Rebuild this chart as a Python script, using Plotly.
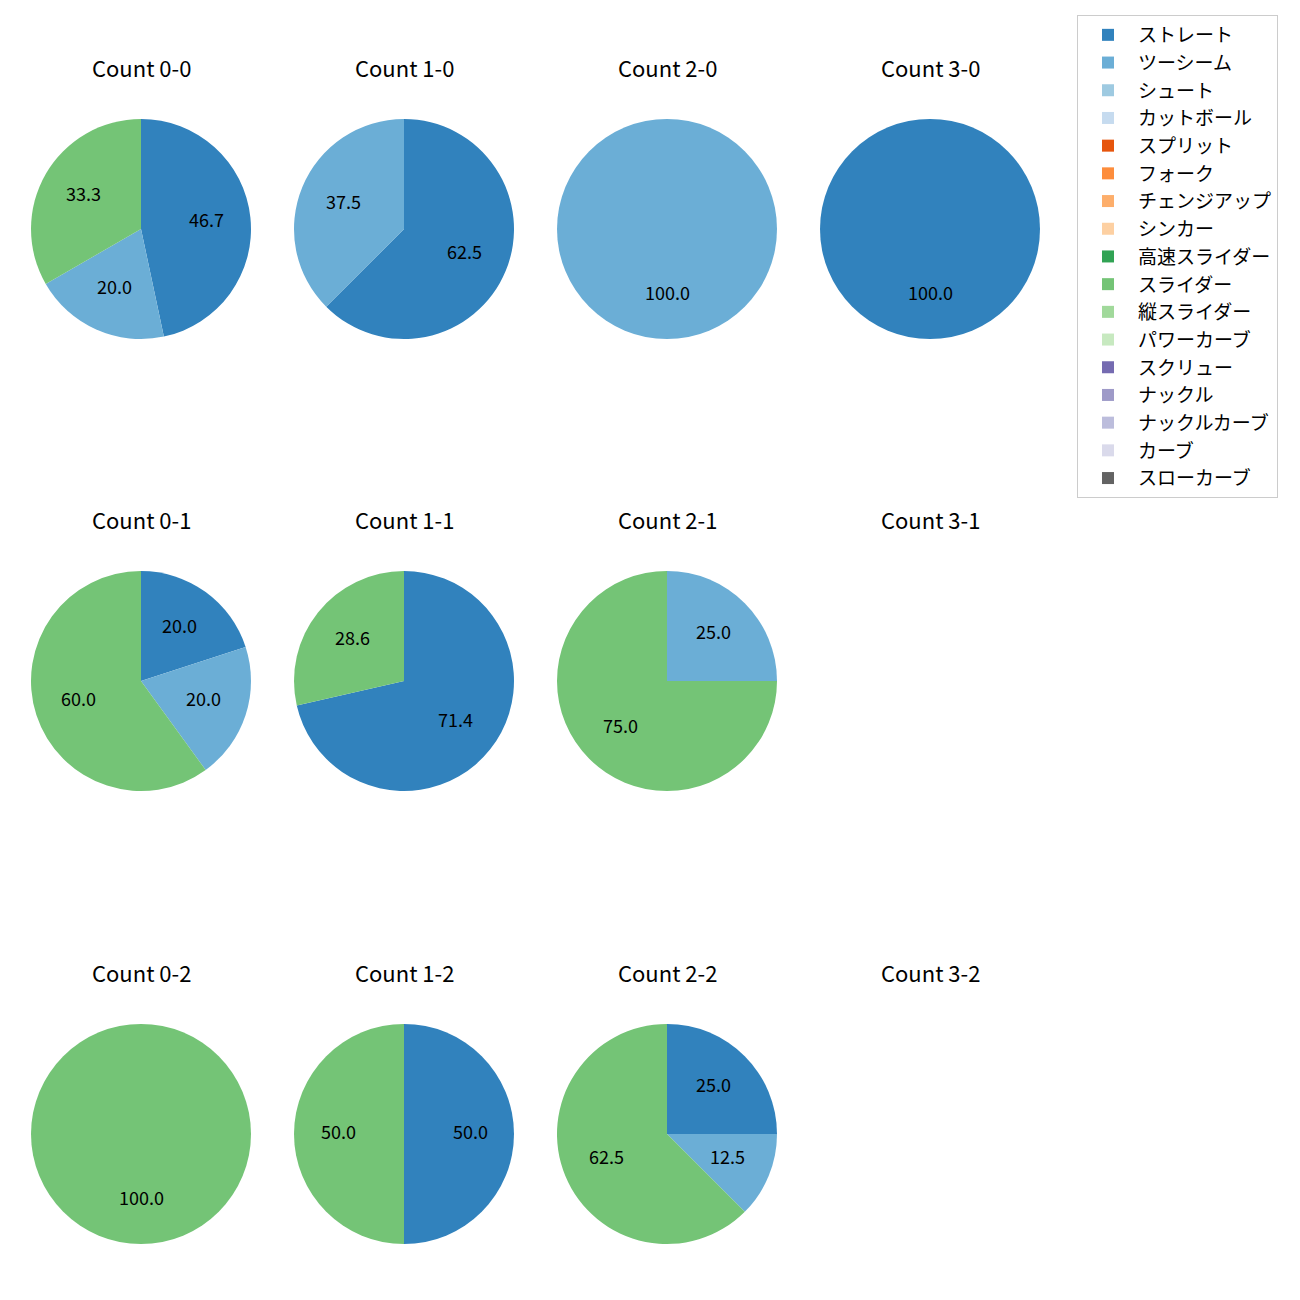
import math
import plotly.graph_objects as go

# ---- data ----
pitch_types = ["ストレート", "ツーシーム", "シュート", "カットボール", "スプリット", "フォーク",
               "チェンジアップ", "シンカー", "高速スライダー", "スライダー", "縦スライダー",
               "パワーカーブ", "スクリュー", "ナックル", "ナックルカーブ", "カーブ", "スローカーブ"]
pitch_colors = ["#3182bd", "#6baed6", "#9ecae1", "#c6dbef", "#e6550d", "#fd8d3c",
                "#fdae6b", "#fdd0a2", "#31a354", "#74c476", "#a1d99b", "#c7e9c0",
                "#756bb1", "#9e9ac8", "#bcbddc", "#dadaeb", "#636363"]

count_labels = ["0-0", "1-0", "2-0", "3-0",
                "0-1", "1-1", "2-1", "3-1",
                "0-2", "1-2", "2-2", "3-2"]

# pitch counts per ball-strike count (only pitch types that occurred)
count_pitches = [
    {"ストレート": 7, "ツーシーム": 3, "スライダー": 5},   # 0-0
    {"ストレート": 5, "ツーシーム": 3},                    # 1-0
    {"ツーシーム": 1},                                     # 2-0
    {"ストレート": 1},                                     # 3-0
    {"ストレート": 1, "ツーシーム": 1, "スライダー": 3},   # 0-1
    {"ストレート": 5, "スライダー": 2},                    # 1-1
    {"ツーシーム": 1, "スライダー": 3},                    # 2-1
    {},                                                    # 3-1
    {"スライダー": 1},                                     # 0-2
    {"ストレート": 1, "スライダー": 1},                    # 1-2
    {"ストレート": 2, "ツーシーム": 1, "スライダー": 5},   # 2-2
    {},                                                    # 3-2
]

# ---- layout geometry (pixels, page coords) ----
W = H = 1300
OFF = 8  # page body margin offset
col_centers = [141, 404, 667, 930]
row_centers = [229, 681, 1134]
R = 110
title_offset = 160


def px(x):
    return (x - OFF) / W


def py(y):
    return 1 - (y - OFF) / H


fig = go.Figure()
annotations = []

for i, lab in enumerate(count_labels):
    r_i, c_i = divmod(i, 4)
    cx, cy = col_centers[c_i], row_centers[r_i]
    annotations.append(dict(
        text=f"Count {lab}", x=px(cx), y=py(cy - title_offset), yshift=2,
        xref="paper", yref="paper", showarrow=False,
        font=dict(size=22, color="black"), xanchor="center", yanchor="middle"))
    data = count_pitches[i]
    vals = [data.get(p, 0) for p in pitch_types]
    total = sum(vals)
    if total == 0:
        continue
    fig.add_trace(go.Pie(
        labels=pitch_types, values=vals, sort=False, direction="clockwise",
        rotation=0, marker=dict(colors=pitch_colors, line=dict(width=0)),
        textinfo="none", hoverinfo="label+percent",
        domain=dict(x=[px(cx - R), px(cx + R)],
                    y=[py(cy + R), py(cy - R)]),
        showlegend=True))
    cum = 0.0
    for v in vals:
        if v == 0:
            continue
        frac = v / total
        mid = (cum + frac / 2) * 2 * math.pi
        tx = cx + 0.6 * R * math.sin(mid)
        ty = cy - 0.6 * R * math.cos(mid)
        annotations.append(dict(
            text=f"{frac * 100:.1f}", x=px(tx), y=py(ty), yshift=3,
            xref="paper", yref="paper", showarrow=False,
            font=dict(size=18, color="black"), xanchor="center", yanchor="middle"))
        cum += frac

fig.update_layout(
    width=W, height=H,
    margin=dict(l=0, r=0, t=0, b=0),
    paper_bgcolor="white", plot_bgcolor="white",
    font=dict(family="Noto Sans CJK JP, sans-serif", color="black"),
    annotations=annotations,
    legend=dict(x=px(1077), y=py(15), xanchor="left", yanchor="top",
                bgcolor="white", bordercolor="#cccccc", borderwidth=1,
                font=dict(size=19), traceorder="normal", itemwidth=50),
)

fig.write_html("out.html")
